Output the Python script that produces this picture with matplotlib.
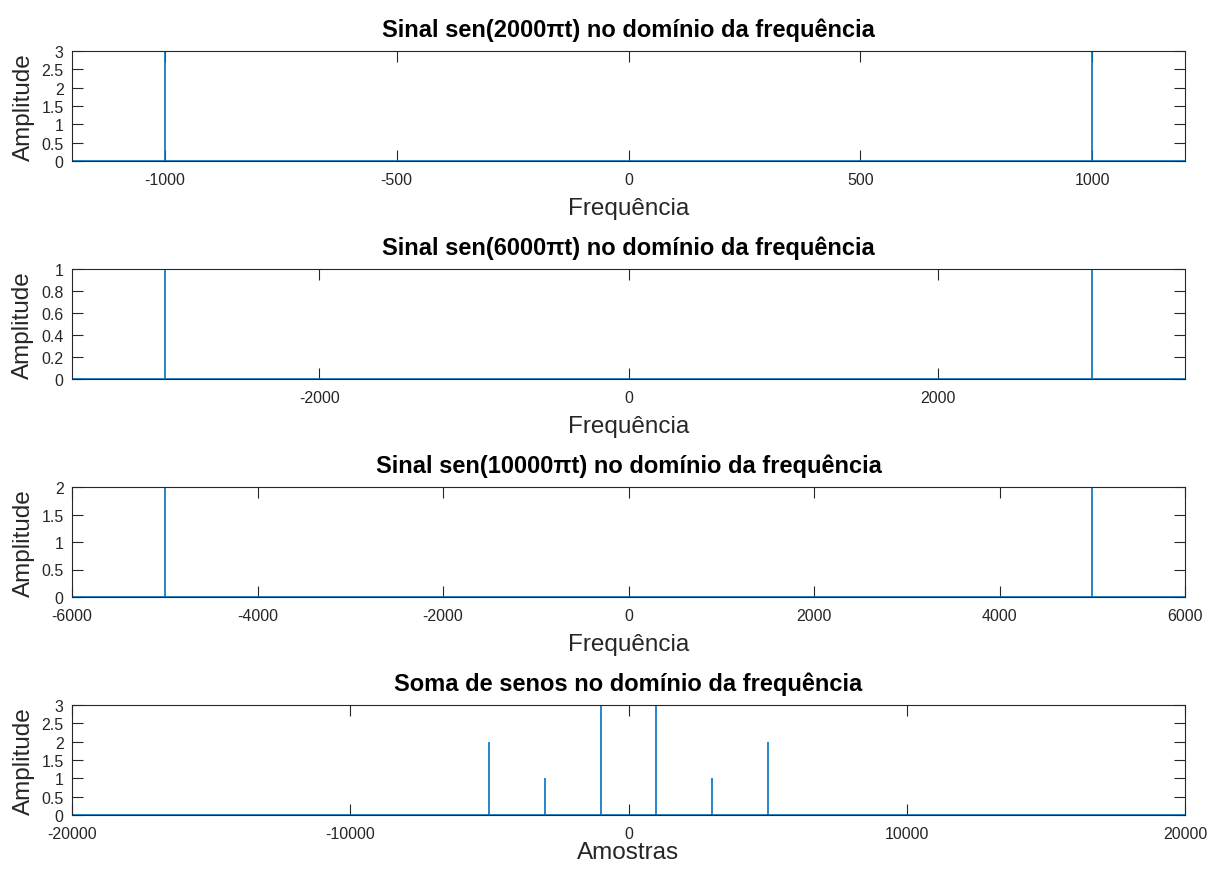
import numpy as np
import matplotlib
matplotlib.use("Agg")
from matplotlib import pyplot as plt

plt.rcParams["font.family"] = ["Liberation Sans", "DejaVu Sans"]
plt.rcParams["axes.unicode_minus"] = False

# spectrum of each sine: peak frequencies and amplitudes
freqs_1 = [-1000, 1000]
amps_1 = [3, 3]
freqs_2 = [-3000, 3000]
amps_2 = [1, 1]
freqs_3 = [-5000, 5000]
amps_3 = [2, 2]
freqs_sum = [-5000, -3000, -1000, 1000, 3000, 5000]
amps_sum = [2, 1, 3, 3, 1, 2]

titles = [
    "Sinal sen(2000\u03c0t) no dom\u00ednio da frequ\u00eancia",
    "Sinal sen(6000\u03c0t) no dom\u00ednio da frequ\u00eancia",
    "Sinal sen(10000\u03c0t) no dom\u00ednio da frequ\u00eancia",
    "Soma de senos no dom\u00ednio da frequ\u00eancia",
]
xlabels = ["Frequ\u00eancia", "Frequ\u00eancia", "Frequ\u00eancia", "Amostras"]
xlims = [(-1200, 1200), (-3600, 3600), (-6000, 6000), (-20000, 20000)]
xticks = [
    [-1000, -500, 0, 500, 1000],
    [-2000, 0, 2000],
    [-6000, -4000, -2000, 0, 2000, 4000, 6000],
    [-20000, -10000, 0, 10000, 20000],
]
yticks = [
    [0, 0.5, 1, 1.5, 2, 2.5, 3],
    [0, 0.2, 0.4, 0.6, 0.8, 1],
    [0, 0.5, 1, 1.5, 2],
    [0, 0.5, 1, 1.5, 2, 2.5, 3],
]
spectra = [(freqs_1, amps_1), (freqs_2, amps_2), (freqs_3, amps_3), (freqs_sum, amps_sum)]

blue = "#0072BD"
dark = "#262626"

fig = plt.figure(figsize=(12.15, 8.7), dpi=100)

tops = [52, 270, 488, 706]
for i in range(4):
    bottom = (870 - tops[i] - 110) / 870
    ax = fig.add_axes([72 / 1215, bottom, 1113 / 1215, 110 / 870])
    f, a = spectra[i]
    ax.plot(xlims[i], [0, 0], color=blue, lw=1.2)
    ax.vlines(f, 0, a, color=blue, lw=1.2)
    ax.set_xlim(xlims[i])
    ax.set_ylim(0, max(yticks[i]))
    ax.set_xticks(xticks[i])
    ax.set_xticklabels([f"{v:g}" for v in xticks[i]])
    ax.set_yticks(yticks[i])
    ax.set_yticklabels([f"{v:g}" for v in yticks[i]])
    ax.tick_params(direction="in", length=8, width=0.8, color=dark, labelcolor=dark,
                   labelsize=11.5, top=True, right=True)
    ax.tick_params(axis="x", pad=8)
    ax.tick_params(axis="y", pad=6)
    for s in ax.spines.values():
        s.set_color(dark)
        s.set_linewidth(0.8)
    ax.set_title(titles[i], fontsize=17, fontweight="bold", pad=11)
    # last panel sits close to the figure edge, so its label is pulled in
    ax.set_xlabel(xlabels[i], fontsize=17.5, color=dark, labelpad=7 if i < 3 else 0)
    ax.set_ylabel("Amplitude", fontsize=17.5, color=dark, labelpad=5)

fig.savefig("out.png", dpi=100)
